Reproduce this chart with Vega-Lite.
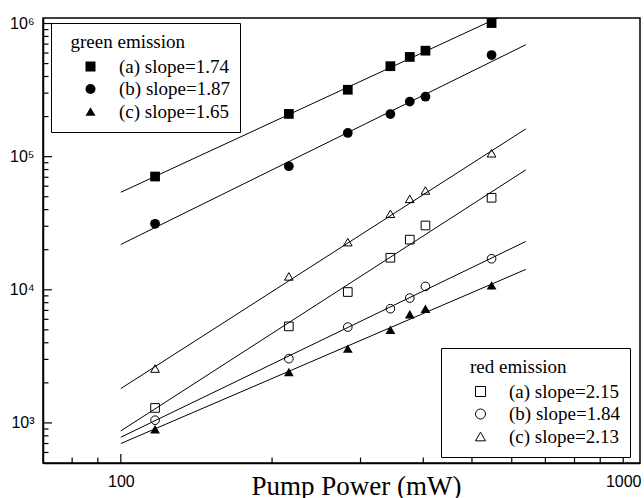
{
  "$schema": "https://vega.github.io/schema/vega-lite/v6.json",
  "width": 597,
  "height": 445,
  "autosize": {"type": "none"},
  "padding": {"left": 43, "top": 18, "right": 4, "bottom": 35},
  "background": "white",
  "config": {
    "view": {"stroke": "black", "strokeWidth": 1.5},
    "axis": {
      "grid": false,
      "domainColor": "black",
      "domainWidth": 1.5,
      "labelColor": "black",
      "labelFont": "Liberation Sans",
      "labelFontSize": 16
    }
  },
  "datasets": {
    "xticks": [
      {"kind": "major", "power": 100, "intensity": 500},
      {"kind": "major", "power": 1000, "intensity": 500},
      {"kind": "minor", "power": 80, "intensity": 500},
      {"kind": "minor", "power": 90, "intensity": 500},
      {"kind": "minor", "power": 200, "intensity": 500},
      {"kind": "minor", "power": 300, "intensity": 500},
      {"kind": "minor", "power": 400, "intensity": 500},
      {"kind": "minor", "power": 500, "intensity": 500},
      {"kind": "minor", "power": 600, "intensity": 500},
      {"kind": "minor", "power": 700, "intensity": 500},
      {"kind": "minor", "power": 800, "intensity": 500},
      {"kind": "minor", "power": 900, "intensity": 500}
    ],
    "yticks": [
      {"kind": "major", "power": 70, "intensity": 1000},
      {"kind": "major", "power": 70, "intensity": 10000},
      {"kind": "major", "power": 70, "intensity": 100000},
      {"kind": "major", "power": 70, "intensity": 1000000},
      {"kind": "minor", "power": 70, "intensity": 600},
      {"kind": "minor", "power": 70, "intensity": 700},
      {"kind": "minor", "power": 70, "intensity": 800},
      {"kind": "minor", "power": 70, "intensity": 900},
      {"kind": "minor", "power": 70, "intensity": 2000},
      {"kind": "minor", "power": 70, "intensity": 3000},
      {"kind": "minor", "power": 70, "intensity": 4000},
      {"kind": "minor", "power": 70, "intensity": 5000},
      {"kind": "minor", "power": 70, "intensity": 6000},
      {"kind": "minor", "power": 70, "intensity": 7000},
      {"kind": "minor", "power": 70, "intensity": 8000},
      {"kind": "minor", "power": 70, "intensity": 9000},
      {"kind": "minor", "power": 70, "intensity": 20000},
      {"kind": "minor", "power": 70, "intensity": 30000},
      {"kind": "minor", "power": 70, "intensity": 40000},
      {"kind": "minor", "power": 70, "intensity": 50000},
      {"kind": "minor", "power": 70, "intensity": 60000},
      {"kind": "minor", "power": 70, "intensity": 70000},
      {"kind": "minor", "power": 70, "intensity": 80000},
      {"kind": "minor", "power": 70, "intensity": 90000},
      {"kind": "minor", "power": 70, "intensity": 200000},
      {"kind": "minor", "power": 70, "intensity": 300000},
      {"kind": "minor", "power": 70, "intensity": 400000},
      {"kind": "minor", "power": 70, "intensity": 500000},
      {"kind": "minor", "power": 70, "intensity": 600000},
      {"kind": "minor", "power": 70, "intensity": 700000},
      {"kind": "minor", "power": 70, "intensity": 800000},
      {"kind": "minor", "power": 70, "intensity": 900000}
    ],
    "fits": [
      {"line": "green a", "power": 100, "intensity": 54000},
      {"line": "green a", "power": 640, "intensity": 1380000},
      {"line": "green b", "power": 100, "intensity": 21900},
      {"line": "green b", "power": 640, "intensity": 693000},
      {"line": "green c", "power": 100, "intensity": 700},
      {"line": "green c", "power": 640, "intensity": 14230},
      {"line": "red a", "power": 100, "intensity": 871},
      {"line": "red a", "power": 640, "intensity": 79600},
      {"line": "red b", "power": 100, "intensity": 781},
      {"line": "red b", "power": 640, "intensity": 23070},
      {"line": "red c", "power": 100, "intensity": 1811},
      {"line": "red c", "power": 640, "intensity": 161600}
    ],
    "green": [
      {"series": "(a) slope=1.74", "power": 117, "intensity": 70900},
      {"series": "(a) slope=1.74", "power": 216, "intensity": 209400},
      {"series": "(a) slope=1.74", "power": 283, "intensity": 318000},
      {"series": "(a) slope=1.74", "power": 344, "intensity": 478000},
      {"series": "(a) slope=1.74", "power": 376, "intensity": 561000},
      {"series": "(a) slope=1.74", "power": 404, "intensity": 625000},
      {"series": "(a) slope=1.74", "power": 547, "intensity": 1008000},
      {"series": "(b) slope=1.87", "power": 117, "intensity": 31300},
      {"series": "(b) slope=1.87", "power": 216, "intensity": 84700},
      {"series": "(b) slope=1.87", "power": 283, "intensity": 150700},
      {"series": "(b) slope=1.87", "power": 344, "intensity": 209000},
      {"series": "(b) slope=1.87", "power": 376, "intensity": 259000},
      {"series": "(b) slope=1.87", "power": 404, "intensity": 282000},
      {"series": "(b) slope=1.87", "power": 547, "intensity": 580000},
      {"series": "(c) slope=1.65", "power": 117, "intensity": 897},
      {"series": "(c) slope=1.65", "power": 216, "intensity": 2414},
      {"series": "(c) slope=1.65", "power": 283, "intensity": 3615},
      {"series": "(c) slope=1.65", "power": 344, "intensity": 5016},
      {"series": "(c) slope=1.65", "power": 376, "intensity": 6540},
      {"series": "(c) slope=1.65", "power": 404, "intensity": 7210},
      {"series": "(c) slope=1.65", "power": 547, "intensity": 10790}
    ],
    "red": [
      {"series": "(a) slope=2.15", "power": 117, "intensity": 1296},
      {"series": "(a) slope=2.15", "power": 216, "intensity": 5310},
      {"series": "(a) slope=2.15", "power": 283, "intensity": 9620},
      {"series": "(a) slope=2.15", "power": 344, "intensity": 17400},
      {"series": "(a) slope=2.15", "power": 376, "intensity": 23800},
      {"series": "(a) slope=2.15", "power": 404, "intensity": 30400},
      {"series": "(a) slope=2.15", "power": 547, "intensity": 49100},
      {"series": "(b) slope=1.84", "power": 117, "intensity": 1048},
      {"series": "(b) slope=1.84", "power": 216, "intensity": 3040},
      {"series": "(b) slope=1.84", "power": 283, "intensity": 5250},
      {"series": "(b) slope=1.84", "power": 344, "intensity": 7210},
      {"series": "(b) slope=1.84", "power": 376, "intensity": 8660},
      {"series": "(b) slope=1.84", "power": 404, "intensity": 10600},
      {"series": "(b) slope=1.84", "power": 547, "intensity": 17100},
      {"series": "(c) slope=2.13", "power": 117, "intensity": 2560},
      {"series": "(c) slope=2.13", "power": 216, "intensity": 12600},
      {"series": "(c) slope=2.13", "power": 283, "intensity": 22800},
      {"series": "(c) slope=2.13", "power": 344, "intensity": 37200},
      {"series": "(c) slope=2.13", "power": 376, "intensity": 48200},
      {"series": "(c) slope=2.13", "power": 404, "intensity": 55700},
      {"series": "(c) slope=2.13", "power": 547, "intensity": 106000}
    ]
  },
  "encoding": {
    "x": {
      "field": "power",
      "type": "quantitative",
      "scale": {"type": "log", "domain": [70, 1080], "nice": false},
      "axis": {
        "orient": "bottom",
        "title": "Pump Power (mW)",
        "titleFont": "Liberation Serif",
        "titleFontSize": 27,
        "titleFontWeight": "normal",
        "titleColor": "black",
        "titleBaseline": "alphabetic",
        "titleX": 313,
        "titleY": 31,
        "titleAlign": "center",
        "values": [100, 1000],
        "labelExpr": "datum.value == 100 ? '100' : '1000'",
        "labelFlush": false,
        "ticks": false,
        "labelPadding": 10
      }
    },
    "y": {
      "field": "intensity",
      "type": "quantitative",
      "scale": {"type": "log", "domain": [500, 1100000], "nice": false},
      "axis": {
        "orient": "left",
        "title": null,
        "values": [1000, 10000, 100000, 1000000],
        "labelExpr": "datum.value == 1000 ? '10³' : datum.value == 10000 ? '10⁴' : datum.value == 100000 ? '10⁵' : '10⁶'",
        "ticks": false,
        "labelPadding": 9
      }
    }
  },
  "layer": [
    {
      "data": {"name": "xticks"},
      "transform": [{"filter": {"field": "kind", "equal": "major"}}],
      "mark": {"type": "rule", "color": "black", "strokeWidth": 1.2, "opacity": 1, "yOffset": -9},
      "encoding": {"y2": {"datum": 500}}
    },
    {
      "data": {"name": "xticks"},
      "transform": [{"filter": {"field": "kind", "equal": "minor"}}],
      "mark": {"type": "rule", "color": "black", "strokeWidth": 1.2, "opacity": 1, "yOffset": -5.5},
      "encoding": {"y2": {"datum": 500}}
    },
    {
      "data": {"name": "yticks"},
      "transform": [{"filter": {"field": "kind", "equal": "major"}}],
      "mark": {"type": "rule", "color": "black", "strokeWidth": 1.2, "opacity": 1, "x2Offset": 9},
      "encoding": {"x2": {"datum": 70}}
    },
    {
      "data": {"name": "yticks"},
      "transform": [{"filter": {"field": "kind", "equal": "minor"}}],
      "mark": {"type": "rule", "color": "black", "strokeWidth": 1.2, "opacity": 1, "x2Offset": 5.5},
      "encoding": {"x2": {"datum": 70}}
    },
    {
      "data": {"name": "fits"},
      "mark": {"type": "line", "color": "black", "strokeWidth": 1, "clip": true},
      "encoding": {"detail": {"field": "line", "type": "nominal"}}
    },
    {
      "data": {"name": "green"},
      "mark": {"type": "point", "filled": true, "color": "black", "opacity": 1, "size": 95, "clip": true},
      "encoding": {
        "shape": {
          "field": "series",
          "type": "nominal",
          "scale": {"domain": ["(a) slope=1.74", "(b) slope=1.87", "(c) slope=1.65"], "range": ["square", "circle", "triangle-up"]},
          "legend": {
            "title": "\u200b\u00a0\u00a0green emission",
            "orient": "none",
            "legendX": 8,
            "legendY": 5,
            "padding": 10,
            "strokeColor": "black",
            "fillColor": "white",
            "titleFont": "Liberation Serif",
            "titleFontSize": 19,
            "titleFontWeight": "normal",
            "titleColor": "black",
            "titlePadding": 5,
            "labelFont": "Liberation Serif",
            "labelFontSize": 19,
            "labelColor": "black",
            "symbolSize": 100,
            "symbolOffset": 20,
            "labelOffset": 19,
            "rowPadding": 2.5,
            "symbolFillColor": "black",
            "symbolStrokeColor": "black"
          }
        }
      }
    },
    {
      "data": {"name": "red"},
      "mark": {"type": "point", "filled": false, "color": "black", "strokeWidth": 1, "opacity": 1, "size": 75, "clip": true},
      "encoding": {
        "shape": {
          "field": "series",
          "type": "nominal",
          "scale": {"domain": ["(a) slope=2.15", "(b) slope=1.84", "(c) slope=2.13"], "range": ["square", "circle", "triangle-up"]},
          "legend": {
            "title": "\u200b\u00a0\u00a0\u00a0\u00a0red emission",
            "orient": "none",
            "legendX": 398,
            "legendY": 330,
            "padding": 10,
            "strokeColor": "black",
            "fillColor": "white",
            "titleFont": "Liberation Serif",
            "titleFontSize": 19,
            "titleFontWeight": "normal",
            "titleColor": "black",
            "titlePadding": 5,
            "labelFont": "Liberation Serif",
            "labelFontSize": 19,
            "labelColor": "black",
            "symbolSize": 100,
            "symbolOffset": 20,
            "labelOffset": 19,
            "rowPadding": 2.5,
            "symbolFillColor": "white",
            "symbolStrokeColor": "black",
            "symbolStrokeWidth": 1
          }
        }
      }
    }
  ],
  "resolve": {
    "scale": {"shape": "independent"},
    "legend": {"shape": "independent"}
  }
}
